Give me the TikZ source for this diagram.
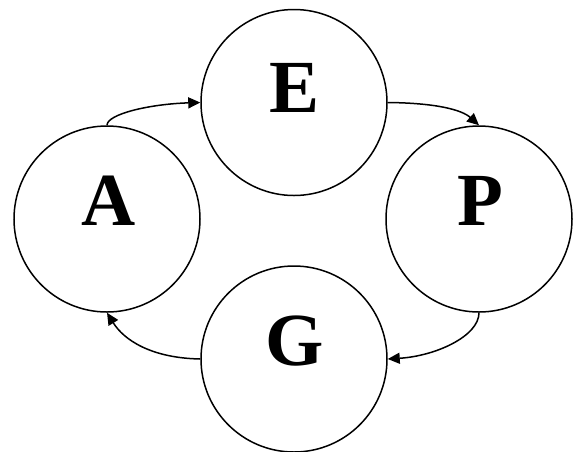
\documentclass[tikz,border=0pt]{standalone}
\usepackage{fontspec}
\setmainfont{Liberation Serif}
\usetikzlibrary{arrows.meta}
\begin{document}
\begin{tikzpicture}[x=1pt,y=-1pt,
  stage/.style={draw=black,line width=1.5pt,circle,minimum size=186pt,inner sep=0pt},
  letter/.style={anchor=base,font=\fontsize{75}{75}\selectfont\bfseries},
  flow/.style={draw=black,line width=1.5pt,-{Triangle[length=12pt,width=11pt]}}]
\useasboundingbox (0,0) rectangle (573,451);
\node[stage] (A) at (107,219) {};
\node[stage] (E) at (294,102.5) {};
\node[stage] (P) at (479,219) {};
\node[stage] (G) at (294,359) {};
\node[letter] (tA) at (108.5,225) {A};
\node[letter] (tE) at (294.5,112) {E};
\node[letter] (tP) at (480,225) {P};
\node[letter] (tG) at (295,365) {G};
\draw[flow] (A.north) .. controls (107,114) and (150,104) .. (E.west);
\draw[flow] (E.east) .. controls (437,103) and (462,110) .. (P.north);
\draw[flow] (P.south) .. controls (479,336) and (436,356) .. (G.east);
\draw[flow] (G.west) .. controls (151,358) and (124,340) .. (A.south);
\end{tikzpicture}
\end{document}
